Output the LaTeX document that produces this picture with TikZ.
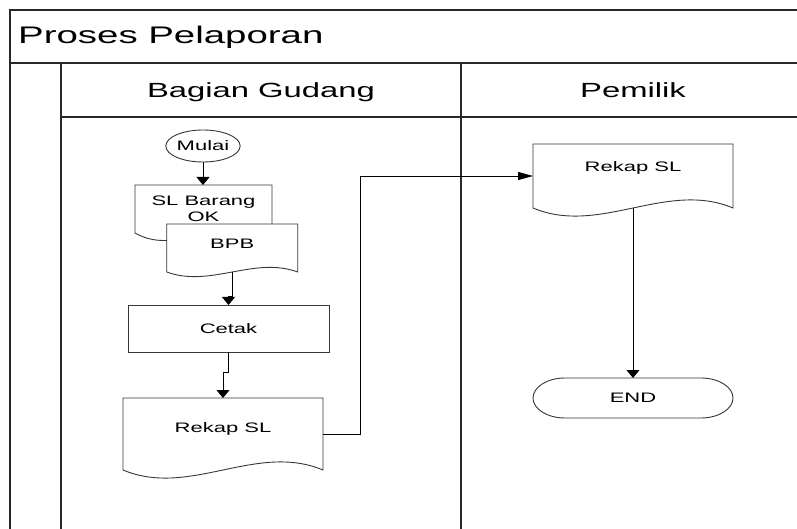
\documentclass[tikz,border=0pt]{standalone}
\usepackage{fontspec}
\setmainfont{Liberation Sans}
\usepackage{graphicx}
\usepackage{xcolor}
\definecolor{laneline}{RGB}{40,40,40}
\definecolor{shapeline}{RGB}{55,55,55}
\usepackage{tikz}
\usetikzlibrary{arrows.meta, positioning, shapes.geometric, calc}

% text in the reference is set wide
\newcommand{\xwide}[1]{\scalebox{1.6}[1]{#1}}
\newcommand{\flowfont}{\fontsize{13.75bp}{16bp}\selectfont}
% document symbol drawn round a named node
\newcommand{\docshape}[2]{%
  \draw[shp] (#1.north west) -- (#1.south west)
    .. controls ($(#1.south west)!0.3333!(#1.south east)+(0,#2)$)
       and ($(#1.south west)!0.6667!(#1.south east)+(0,-#2)$) .. (#1.south east)
    -- (#1.north east) -- cycle;}

\begin{document}
\begin{tikzpicture}[x=1bp, y=-1bp,
  lane/.style={draw=laneline, line width=1.3bp},
  shp/.style={draw=shapeline, line width=0.9bp},
  docbox/.style={rectangle, inner sep=0pt, outer sep=0pt, font=\flowfont,
                 align=center, text height=10bp, text depth=#1},
  procbox/.style={rectangle, shp, inner sep=0pt, outer sep=0pt, font=\flowfont},
  arr/.style={-{Triangle[length=8bp,width=13bp]}, line width=0.9bp},
  arrh/.style={-{Triangle[length=15bp,width=8bp]}, line width=0.9bp}
]
\useasboundingbox (0,0) rectangle (797,529);

% Swimlane frame
\draw[lane] (797,10) -- (10,10) -- (10,529);
\draw[lane] (10,63) -- (797,63);
\draw[lane] (61,63) -- (61,529);
\draw[lane] (61,117) -- (797,117);
\draw[lane] (461,63) -- (461,529);

\node[anchor=base west, inner sep=0pt, font=\fontsize{24bp}{28bp}\selectfont]
  (title) at (18,44) {\xwide{Proses Pelaporan}};
\node[anchor=base, inner sep=0pt, font=\fontsize{20.5bp}{24bp}\selectfont]
  (gudang) at (261,98) {\xwide{Bagian Gudang}};
\node[anchor=base, inner sep=0pt, font=\fontsize{20.5bp}{24bp}\selectfont]
  (pemilik) at (633,98) {\xwide{Pemilik}};

% Bagian Gudang
\node[ellipse, shp, inner sep=0pt, minimum width=74bp, minimum height=32bp, font=\flowfont]
  (mulai) at (203,146) {\xwide{Mulai}};
\node[rectangle, inner sep=0pt, outer sep=0pt, font=\flowfont, align=center,
      minimum width=137bp, minimum height=48bp]
  (slok) at (203.5,209) {\xwide{SL Barang}\\\xwide{OK}};
\docshape{slok}{26}
\node[docbox=8bp, fill=white, minimum width=131bp, minimum height=48bp]
  (bpb) at (232.2,248) {\xwide{BPB}};
\docshape{bpb}{16}
\node[procbox, minimum width=201bp, minimum height=47bp]
  (cetak) at (228.5,328.5) {\xwide{Cetak}};
\node[docbox=14bp, minimum width=200bp, minimum height=72bp]
  (rekapA) at (223,434) {\xwide{Rekap SL}};
\docshape{rekapA}{28}

% Pemilik
\node[docbox=18bp, minimum width=200bp, minimum height=64bp]
  (rekapB) at (633,176) {\xwide{Rekap SL}};
\docshape{rekapB}{28}
\node[rectangle, inner sep=0pt, outer sep=0pt, minimum width=200bp, minimum height=40bp,
      font=\flowfont]
  (endnode) at (633,398) {\xwide{END}};
\draw[shp] ([xshift=32bp]endnode.north west) -- ([xshift=-32bp]endnode.north east)
  arc[start angle=90, end angle=-90, x radius=32bp, y radius=20bp]
  -- ([xshift=32bp]endnode.south west)
  arc[start angle=270, end angle=90, x radius=32bp, y radius=20bp] -- cycle;

% Connectors
\draw[arr] (mulai.south) -- (mulai.south |- slok.north);
\draw[arr] (bpb.south) -- ++(0,24) -| (cetak.north);
\draw[arr] (cetak.south) -- ++(0,20) -| (rekapA.north);
\draw[arrh] (rekapA.east) -- ++(37,0) |- (rekapB.west);
\draw[arr] (rekapB.south) -- (endnode.north);
\end{tikzpicture}
\end{document}
